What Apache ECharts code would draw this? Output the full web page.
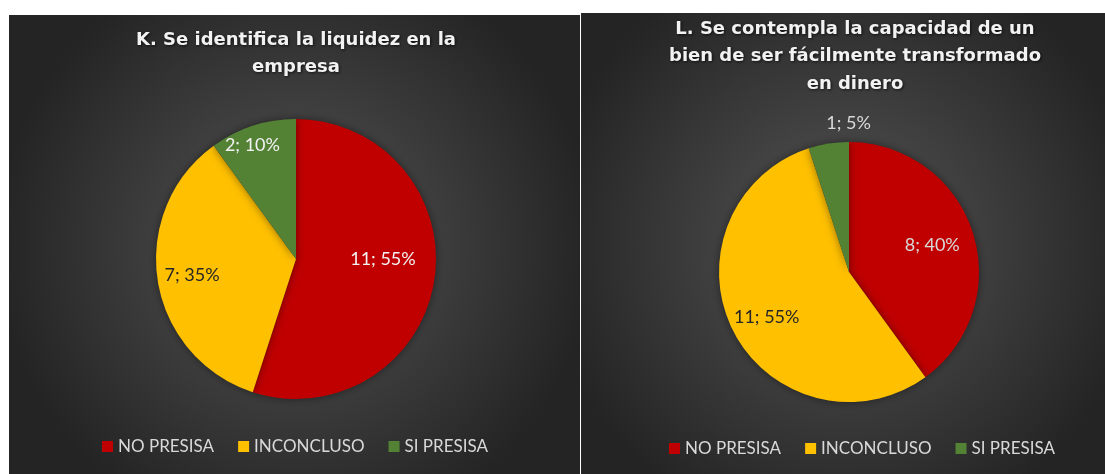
<!DOCTYPE html>
<html>
<head>
<meta charset="utf-8">
<script src="https://cdn.jsdelivr.net/npm/echarts@6/dist/echarts.min.js"></script>
<style>
  html, body { margin: 0; padding: 0; background: #fff; }
  #chart { width: 1105px; height: 474px; }
</style>
</head>
<body>
<div id="chart"></div>
<script>
// datos
var categorias = ['NO PRESISA', 'INCONCLUSO', 'SI PRESISA'];
var valoresK = [11, 7, 2];
var valoresL = [8, 11, 1];
var tituloK = ['K. Se identifica la liquidez en la', 'empresa'];
var tituloL = ['L. Se contempla la capacidad de un', 'bien de ser fácilmente transformado', 'en dinero'];

var colores = ['#C00000', '#FFC000', '#548235'];

var chart = echarts.init(document.getElementById('chart'));

// mueve la etiqueta "inside" a una fraccion del radio (estilo Excel best fit)
function etiquetas(valores, radio, fracs, giros, colorTxt) {
  var total = valores.reduce(function (a, b) { return a + b; }, 0);
  var acum = 0;
  return valores.map(function (v, i) {
    var mid = (acum + v / 2) / total * 2 * Math.PI;
    acum += v;
    var ang = mid + (giros[i] || 0) * Math.PI / 180;
    var dx = fracs[i] * radio * Math.sin(ang) - 0.5 * radio * Math.sin(mid);
    var dy = -fracs[i] * radio * Math.cos(ang) + 0.5 * radio * Math.cos(mid);
    return {
      name: categorias[i],
      value: v,
      label: { offset: [dx, dy], color: colorTxt[i] }
    };
  });
}

function fondo(x, y, w, h) {
  return {
    type: 'rect',
    shape: { x: x, y: y, width: w, height: h },
    style: {
      fill: new echarts.graphic.RadialGradient(0.5, 0.5, 0.65, [
        { offset: 0, color: '#555555' },
        { offset: 1, color: '#242424' }
      ])
    },
    silent: true,
    z: -10
  };
}

// titulos con el componente title (una linea por title)
function titulo(lineas, cx, y0) {
  return lineas.map(function (t, i) {
    return {
      text: t,
      left: cx,
      top: y0 + i * 27.5,
      textAlign: 'center',
      padding: 0,
      textStyle: {
        color: '#f2f2f2',
        fontFamily: 'DejaVu Sans',
        fontWeight: 'bold',
        fontSize: 18,
        textShadowColor: 'rgba(0,0,0,0.7)',
        textShadowBlur: 3,
        textShadowOffsetX: 1,
        textShadowOffsetY: 1
      }
    };
  });
}

var rK = 140, rL = 130;

var serieBase = {
  type: 'pie',
  startAngle: 90,
  clockwise: true,
  avoidLabelOverlap: false,
  label: {
    show: true,
    position: 'inside',
    formatter: '{c}; {d}%',
    fontFamily: 'Lato',
    fontSize: 18
  },
  labelLine: { show: false },
  itemStyle: {
    borderWidth: 0,
    shadowBlur: 8,
    shadowColor: 'rgba(0,0,0,0.45)'
  },
  emphasis: { scale: false }
};

var leyenda = {
  icon: 'rect', itemWidth: 11, itemHeight: 11, itemGap: 24,
  textStyle: { color: '#d9d9d9', fontFamily: 'Lato', fontSize: 17 },
  data: categorias
};

var option = {
  backgroundColor: '#ffffff',
  animation: false,
  color: colores,
  graphic: [fondo(9, 15, 571, 459), fondo(581, 13, 524, 461)],
  title: titulo(tituloK, 296, 31).concat(titulo(tituloL, 855, 20)),
  legend: [
    Object.assign({}, leyenda, { left: 97, top: 433 }),
    Object.assign({}, leyenda, { left: 664, top: 435 })
  ],
  series: [
    Object.assign({}, serieBase, {
      name: 'K',
      center: [296, 259],
      radius: rK,
      data: etiquetas(valoresK, rK, [0.6, 0.73, 0.85], [-9, 0, -3], ['#f2f2f2', '#262626', '#f2f2f2'])
    }),
    Object.assign({}, serieBase, {
      name: 'L',
      center: [849, 272],
      radius: rL,
      data: etiquetas(valoresL, rL, [0.65, 0.7, 1.12], [0, -2, 9], ['#d9d9d9', '#262626', '#d9d9d9'])
    })
  ]
};

chart.setOption(option);
</script>
</body>
</html>
